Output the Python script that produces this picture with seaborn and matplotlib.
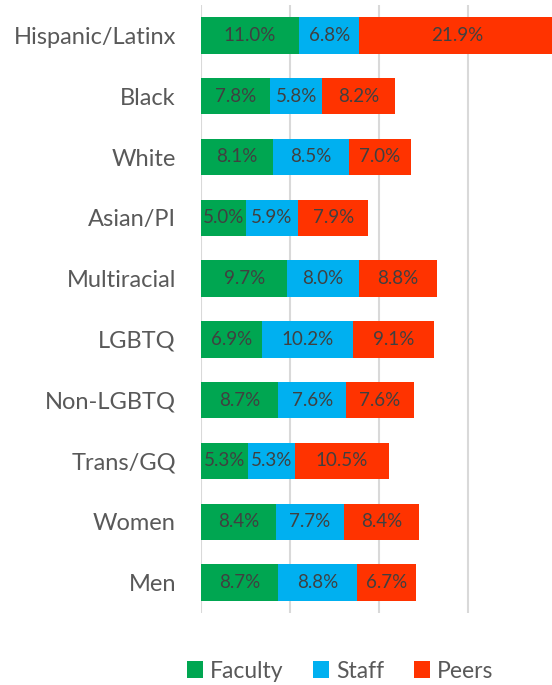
import matplotlib
matplotlib.use("Agg")
import matplotlib.pyplot as plt
import seaborn as sns
import pandas as pd
import numpy as np
from matplotlib.patches import Patch

categories = ["Hispanic/Latinx", "Black", "White", "Asian/PI", "Multiracial",
              "LGBTQ", "Non-LGBTQ", "Trans/GQ", "Women", "Men"]
faculty = [11.0, 7.8, 8.1, 5.0, 9.7, 6.9, 8.7, 5.3, 8.4, 8.7]
staff = [6.8, 5.8, 8.5, 5.9, 8.0, 10.2, 7.6, 5.3, 7.7, 8.8]
peers = [21.9, 8.2, 7.0, 7.9, 8.8, 9.1, 7.6, 10.5, 8.4, 6.7]
series_names = ["Faculty", "Staff", "Peers"]
colors = ["#00A651", "#00B0F0", "#FF3300"]

sns.set_style("white")
plt.rcParams["font.family"] = ["Lato", "DejaVu Sans"]

df = pd.DataFrame({"cat": categories, "Faculty": faculty, "Staff": staff, "Peers": peers})
df["c1"] = df["Faculty"]
df["c2"] = df["c1"] + df["Staff"]
df["c3"] = df["c2"] + df["Peers"]

fig = plt.figure(figsize=(5.52, 6.85), dpi=100)
L = 201 / 552
W = 356 / 552
B = (685 - 613) / 685
H = 608 / 685
ax = fig.add_axes([L, B, W, H])

for col, c in zip(["c3", "c2", "c1"], colors[::-1]):
    sns.barplot(data=df, y="cat", x=col, color=c, orient="h", ax=ax,
                width=0.6, saturation=1, edgecolor="none", order=categories)

ax.set_xlim(0, 40)
ax.set_ylim(9.5, -0.5)
ax.set_xticks([0, 10, 20, 30, 40])
ax.xaxis.grid(True, color="#D9D9D9", linewidth=1.5)
ax.set_axisbelow(True)
ax.tick_params(axis="x", labelbottom=False, length=0)
ax.tick_params(axis="y", length=0, pad=18, labelsize=17, labelcolor="#595959")
ax.set_xlabel("")
ax.set_ylabel("")
for s in ax.spines.values():
    s.set_visible(False)

for i in range(len(categories)):
    starts = [0, df["c1"][i], df["c2"][i]]
    vals = [faculty[i], staff[i], peers[i]]
    for st, v in zip(starts, vals):
        ax.text(st + v / 2, i, f"{v:.1f}%", ha="center", va="center",
                fontsize=13.5, color="#404040")

handles = [Patch(facecolor=c, edgecolor="none") for c in colors]
fig.legend(handles, series_names, loc="center", bbox_to_anchor=(340 / 552, 14 / 685),
           ncol=3, frameon=False, fontsize=16.5, labelcolor="#595959",
           handlelength=0.7, handleheight=0.7, handletextpad=0.3, columnspacing=1.3)

fig.savefig("out.png", dpi=100)
